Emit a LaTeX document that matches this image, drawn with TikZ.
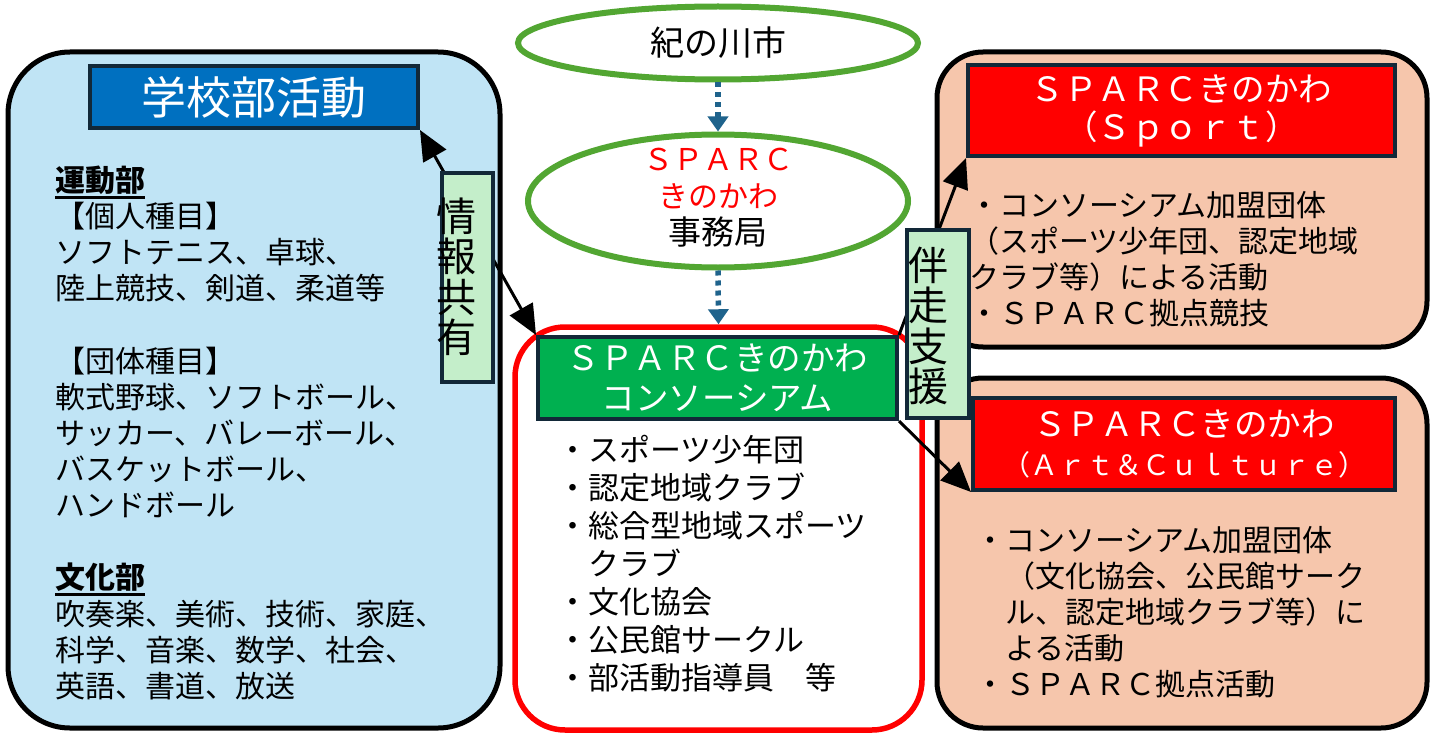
\documentclass[tikz,border=0pt]{standalone}
\usepackage{fontspec}
\setmainfont{Noto Sans CJK JP}
\usetikzlibrary{shapes.geometric,arrows.meta}
\definecolor{lblue}{RGB}{192,228,245}
\definecolor{sblue}{RGB}{0,112,192}
\definecolor{navy}{RGB}{18,40,56}
\definecolor{cgreen}{RGB}{0,176,80}
\definecolor{lgreen}{RGB}{196,238,202}
\definecolor{peach}{RGB}{246,198,172}
\definecolor{egreen}{RGB}{82,166,50}
\definecolor{dblue}{RGB}{31,99,140}
\newcommand\thickul[1]{\leavevmode\vtop{\hbox{#1}\kern1.5pt\hrule height 2.5pt}}
\begin{document}
\begin{tikzpicture}[x=1pt,y=-1pt,
  >={Triangle[length=30pt,width=26pt]},
  container/.style={draw=black, line width=5pt, inner sep=0pt},
  titlebox/.style={draw=navy, line width=4pt, text=white, align=center, inner sep=0pt},
  tagbox/.style={draw=navy, line width=4pt, fill=lgreen, inner sep=0pt},
  oval/.style={ellipse, draw=egreen, line width=6pt, fill=white, inner sep=0pt},
  conn/.style={line width=3pt, draw=black},
  dotarrow/.style={draw=dblue, line width=5.5pt, dash pattern=on 5pt off 5pt, -{Triangle[length=15pt,width=20pt,fill=dblue]}},
  body/.style={anchor=base west, inner sep=0pt, font=\fontsize{30}{36}\selectfont},
  vlabel/.style={inner sep=0pt, align=center, font=\fontsize{40}{40.5}\selectfont}
]
\useasboundingbox (0,0) rectangle (1432,733);

% containers
\node[container, fill=lblue, rounded corners=62pt, minimum width=492pt, minimum height=676pt] (schoolbox) at (254,390) {};
\node[container, draw=red, line width=5.5pt, fill=white, rounded corners=50pt, minimum width=407pt, minimum height=403pt] (consred) at (718.5,528.5) {};
\node[container, fill=peach, rounded corners=46pt, minimum width=490pt, minimum height=295pt] (sportbox) at (1182,199.5) {};
\node[container, fill=peach, rounded corners=46pt, minimum width=490pt, minimum height=350pt] (artbox) at (1182,553) {};

% title boxes
\node[titlebox, fill=sblue, minimum width=328pt, minimum height=62pt, font=\fontsize{45}{50}\selectfont] (school) at (254,97) {学校部活動};
\node[titlebox, fill=cgreen, minimum width=359pt, minimum height=82pt, font=\fontsize{33.5}{40}\selectfont] (cons) at (717.5,378) {ＳＰＡＲＣきのかわ\\コンソーシアム};
\node[titlebox, fill=red, minimum width=427pt, minimum height=91pt, font=\fontsize{33.5}{38}\selectfont] (sportred) at (1181.5,110.5) {ＳＰＡＲＣきのかわ\\（Ｓｐｏｒｔ）};
\node[titlebox, fill=red, minimum width=422pt, minimum height=92pt, font=\fontsize{33.5}{39}\selectfont] (artred) at (1184,444) {ＳＰＡＲＣきのかわ\\{\fontsize{28}{39}\selectfont （Ａｒｔ＆Ｃｕｌｔｕｒｅ）}};

% ellipses
\node[oval, minimum width=400pt, minimum height=73pt, font=\fontsize{34}{40}\selectfont] (city) at (718,43) {紀の川市};
\node[oval, minimum width=380pt, minimum height=133pt] (office) at (718,201) {};
\node[inner sep=0pt, align=center, font=\fontsize{30}{37}\selectfont] (officetxt) at (718,198) {\textcolor{red}{ＳＰＡＲＣ}\\\textcolor{red}{きのかわ}\\{\fontsize{33}{37}\selectfont 事務局}};

% school text
\foreach \k/\t [count=\i] in {0/{\bfseries\thickul{運動部}}, 1/【個人種目】, 2/ソフトテニス、卓球、, 3/陸上競技、剣道、柔道等, 5/【団体種目】, 6/軟式野球、ソフトボール、, 7/サッカー、バレーボール、, 8/バスケットボール、, 9/ハンドボール, 11/{\bfseries\thickul{文化部}}, 12/吹奏楽、美術、技術、家庭、, 13/科学、音楽、数学、社会、, 14/英語、書道、放送}
  \node[body] (sch\i) at (55,191.4+36.14*\k) {\t};

% consortium list
\foreach \k/\t [count=\i] in {0/・スポーツ少年団, 1/・認定地域クラブ, 2/・総合型地域スポーツ, 4/・文化協会, 5/・公民館サークル, 6/・部活動指導員　等}
  \node[body, font=\fontsize{31}{38}\selectfont] (con\i) at (557,461.8+38*\k) {\t};
\node[body, font=\fontsize{31}{38}\selectfont] (conclub) at (588,575.8) {クラブ};

% sport text
\foreach \k/\t [count=\i] in {0/・コンソーシアム加盟団体, 1/（スポーツ少年団、認定地域, 2/クラブ等）による活動, 3/・ＳＰＡＲＣ拠点競技}
  \node[body] (spt\i) at (969,216.4+36*\k) {\t};

% art text
\node[body] (art1) at (975,551.4) {・コンソーシアム加盟団体};
\node[body] (art2) at (1005,587.4) {（文化協会、公民館サーク};
\node[body] (art3) at (1005,623.4) {ル、認定地域クラブ等）に};
\node[body] (art4) at (1005,659.4) {よる活動};
\node[body] (art5) at (975,695.4) {・ＳＰＡＲＣ拠点活動};

% connectors
\draw[dotarrow] (city.south) -- (office.north);
\draw[dotarrow] (office.south) -- (consred.north);
\draw[conn, <->] (school.south east) -- (cons.north west);
\draw[conn, ->] (cons.north east) -- (sportred.south west);
\draw[conn, ->] (cons.south east) -- (artred.south west);

% tags
\node[tagbox, minimum width=51pt, minimum height=209pt] (info) at (467.5,277.5) {};
\node[vlabel] (infotxt) at (456,277) {情\\報\\共\\有};
\node[tagbox, minimum width=62pt, minimum height=188pt] (support) at (938,324) {};
\node[vlabel] (supporttxt) at (928,326) {伴\\走\\支\\援};
\end{tikzpicture}
\end{document}
